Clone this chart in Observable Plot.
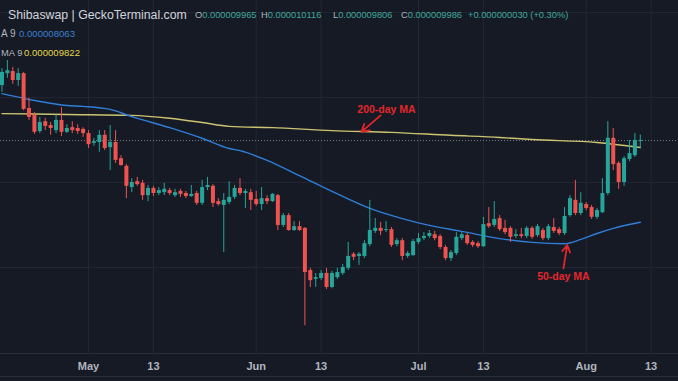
<!DOCTYPE html>
<html>
<head>
<meta charset="utf-8">
<script src="https://cdn.jsdelivr.net/npm/d3@7"></script>
<script src="https://cdn.jsdelivr.net/npm/@observablehq/plot@0.6"></script>
<style>
  html, body { margin: 0; padding: 0; background: #161a25; }
  #wrap { position: relative; width: 678px; height: 381px; overflow: hidden; background: #161a25; font-family: "Liberation Sans", Arial, sans-serif; }
  #wrap svg { position: absolute; left: 0; top: 0; }
  .ov { position: absolute; white-space: nowrap; line-height: 1; }
  .hl { position: absolute; left: 0; width: 678px; height: 1px; background: #2a2e39; }
</style>
</head>
<body>
<div id="wrap"></div>
<script>
// ---- data (prices in units of 1e-6) ----
const firstDay = "2023-04-15"; // daily candles, consecutive days
const open = [11.28,11.56,11.61,11.40,11.56,10.74,10.58,10.20,10.43,10.34,10.22,10.46,10.18,10.29,10.27,10.25,
  10.15,9.92,9.94,10.11,9.82,9.94,9.56,9.38,8.88,9.02,8.98,8.69,8.86,8.74,8.76,8.81,8.69,8.79,8.74,8.67,8.74,8.51,8.88,8.91,
  8.55,8.46,8.53,8.65,8.86,8.74,8.76,8.60,8.48,8.62,8.55,8.69,7.99,8.22,7.87,7.96,7.92,6.93,6.72,6.74,6.86,6.53,6.76,6.86,
  6.98,7.31,7.26,7.26,7.54,7.85,7.92,7.87,7.89,7.54,7.63,7.26,7.28,7.59,7.68,7.73,7.77,7.73,7.47,7.21,7.33,7.68,7.75,7.59,
  7.56,7.49,8.03,7.99,8.15,7.92,7.92,7.73,7.77,7.73,7.92,7.75,7.87,7.68,7.94,7.89,7.80,8.22,8.58,8.27,8.48,8.41,8.18,8.29,
  8.74,10.04,9.45,9.00,9.54,9.63,9.965];
const high = [11.68,11.87,11.71,11.68,11.59,10.98,10.65,10.53,10.51,10.41,10.58,10.76,10.36,10.43,10.36,10.29,
  10.22,10.04,10.22,10.22,10.34,10.22,9.63,9.42,9.09,9.12,9.05,8.93,8.91,8.88,8.98,8.86,8.84,8.84,8.79,8.93,8.79,9.05,9.12,8.95,
  8.62,8.74,9.02,8.93,9.09,8.84,8.84,8.79,8.88,8.69,8.74,8.72,8.27,8.27,8.08,8.08,7.94,6.98,6.86,6.93,6.98,6.91,6.98,7.07,
  7.59,7.35,7.35,7.63,8.58,8.15,8.06,8.08,7.94,7.68,7.68,7.38,7.66,7.80,7.82,7.87,7.85,7.77,7.52,7.40,7.82,7.82,7.80,7.63,
  7.61,8.18,8.41,8.55,8.22,8.11,7.96,7.89,7.92,7.96,7.96,8.01,7.92,8.01,8.15,7.94,8.41,8.69,9.05,8.76,8.53,8.46,8.39,9.09,
  10.43,10.27,9.49,9.61,9.99,10.15,10.116];
const low = [11.12,11.45,11.31,11.26,10.69,10.46,10.13,10.15,10.22,10.11,10.15,10.08,10.15,10.15,10.13,10.06,
  9.80,9.85,9.71,9.75,9.28,9.45,9.38,8.62,8.76,8.91,8.58,8.55,8.67,8.69,8.69,8.69,8.65,8.65,8.62,8.65,8.46,8.46,8.81,8.41,
  8.44,7.35,8.48,8.60,8.69,8.39,8.34,8.44,8.34,8.48,8.53,7.87,7.94,7.85,7.85,7.85,5.63,6.53,6.53,6.69,6.48,6.50,6.72,6.81,
  6.93,7.16,7.05,7.21,7.49,7.80,7.75,7.82,7.47,7.49,7.16,7.21,7.26,7.54,7.63,7.68,7.63,7.42,7.16,7.14,7.28,7.63,7.52,7.47,
  7.45,7.47,7.92,7.94,7.85,7.77,7.59,7.68,7.68,7.68,7.66,7.71,7.63,7.63,7.80,7.75,7.75,8.18,8.22,8.22,8.34,8.13,8.13,8.27,
  8.69,9.28,8.84,8.91,9.49,9.59,9.806];
const close = [11.59,11.63,11.40,11.56,10.72,10.53,10.18,10.41,10.32,10.27,10.46,10.18,10.27,10.22,10.20,10.15,
  9.89,9.96,10.11,9.80,9.94,9.52,9.40,8.91,9.00,8.95,8.69,8.86,8.74,8.81,8.84,8.74,8.76,8.72,8.67,8.72,8.51,8.88,8.93,8.51,
  8.48,8.58,8.65,8.86,8.74,8.79,8.58,8.48,8.62,8.55,8.72,7.99,8.22,7.87,7.96,7.87,6.88,6.69,6.76,6.86,6.53,6.86,6.88,7.00,
  7.26,7.24,7.31,7.56,7.87,7.92,7.85,7.89,7.52,7.63,7.26,7.33,7.61,7.68,7.73,7.80,7.68,7.47,7.21,7.35,7.71,7.77,7.56,7.52,
  7.49,8.01,7.96,8.13,7.89,7.82,7.71,7.77,7.73,7.92,7.71,7.96,7.68,7.96,7.85,7.80,8.20,8.62,8.27,8.51,8.39,8.18,8.34,8.74,
  10.04,9.42,9.00,9.56,9.68,9.99,9.986];

// moving averages
const ma50Dates  = ["2023-04-15","2023-04-21","2023-04-27","2023-04-30","2023-05-05","2023-05-09","2023-05-16","2023-05-22",
  "2023-05-27","2023-05-29","2023-06-03","2023-06-09","2023-06-15","2023-06-22","2023-06-28","2023-07-03","2023-07-09",
  "2023-07-16","2023-07-22","2023-07-28","2023-07-31","2023-08-03","2023-08-06","2023-08-11"];
const ma50Values = [11.09,10.93,10.81,10.79,10.72,10.55,10.29,10.04,9.80,9.75,9.52,9.16,8.79,8.39,8.15,7.99,7.85,
  7.68,7.59,7.56,7.66,7.80,7.92,8.063];
const ma200Dates  = ["2023-04-15","2023-04-27","2023-05-09","2023-05-16","2023-05-22","2023-05-27","2023-06-04","2023-06-15",
  "2023-06-26","2023-07-07","2023-07-16","2023-07-22","2023-08-03","2023-08-11"];
const ma200Values = [10.62,10.60,10.58,10.51,10.41,10.32,10.29,10.22,10.18,10.11,10.06,10.01,9.94,9.822];

// axis
const tickDates  = ["2023-05-01","2023-05-13","2023-06-01","2023-06-13","2023-07-01","2023-07-13","2023-08-01","2023-08-13"];
const tickLabels = ["May","13","Jun","13","Jul","13","Aug","13"];
const gridPrices = [7, 9, 11, 13];

// header
const title = "Shibaswap | GeckoTerminal.com";
const ohlcLetters = ["O","H","L","C"];
const ohlcValues  = ["0.000009965","0.000010116","0.000009806","0.000009986"];
const changeText  = "+0.000000030 (+0.30%)";
const maLabels = ["A 9", "MA 9"];
const maValues = ["0.000008063", "0.000009822"];

// annotations
const annotations = [
  {text: "200-day MA", x: "2023-06-25T02:00Z", y: 10.72, x1: "2023-06-24T00:00Z", y1: 10.58, x2: "2023-06-20T11:00Z", y2: 10.19},
  {text: "50-day MA",  x: "2023-07-27T19:00Z", y: 6.79,  x1: "2023-07-27T19:00Z", y1: 6.98,  x2: "2023-07-28T12:00Z", y2: 7.53}
];

// ---- build ----
const day0 = new Date(firstDay + "T00:00Z").getTime();
const candles = open.map((o, i) => ({date: new Date(day0 + i * 864e5), open: o, high: high[i], low: low[i], close: close[i]}));
const up = candles.filter(d => d.close >= d.open);
const down = candles.filter(d => d.close < d.open);
const ma50 = ma50Dates.map((d, i) => ({date: new Date(d + "T00:00Z"), v: ma50Values[i]}));
const ma200 = ma200Dates.map((d, i) => ({date: new Date(d + "T00:00Z"), v: ma200Values[i]}));
const ticks = tickDates.map(d => new Date(d + "T00:00Z"));
const labelOf = new Map(ticks.map((t, i) => [+t, tickLabels[i]]));
const ann = annotations.map(a => ({...a, x: new Date(a.x), x1: new Date(a.x1), x2: new Date(a.x2)}));

const UP = "#26a69a", DOWN = "#ef5350", GRID = "#232734";
const lastClose = close[close.length - 1];

const chart = Plot.plot({
  width: 678, height: 381,
  marginTop: 0, marginBottom: 28, marginLeft: 0, marginRight: 0,
  style: {background: "transparent", color: "#b2b5be", fontFamily: "Liberation Sans, Arial, sans-serif"},
  x: {type: "utc", domain: [new Date("2023-04-14T17:30Z"), new Date("2023-08-18T01:30Z")], axis: null},
  y: {domain: [4.976, 13.282], axis: null},
  marks: [
    Plot.gridX(ticks, {x: d => d, stroke: GRID, strokeOpacity: 1}),
    Plot.gridY(gridPrices, {y: d => d, stroke: GRID, strokeOpacity: 1}),
    Plot.axisX(ticks, {x: d => d, tickSize: 0, tickPadding: 9, tickFormat: d => labelOf.get(+d),
      fontSize: 11, fontWeight: 600, fill: "#b2b5be"}),
    Plot.ruleY([lastClose], {stroke: "#7d828c", strokeDasharray: "1,2", strokeWidth: 1}),
    Plot.line(ma200, {x: "date", y: "v", stroke: "#cdc472", strokeWidth: 1.4, curve: "monotone-x"}),
    Plot.line(ma50, {x: "date", y: "v", stroke: "#2f7ed8", strokeWidth: 1.4, curve: "monotone-x"}),
    Plot.ruleX(up, {x: "date", y1: "low", y2: "high", stroke: UP, strokeWidth: 1}),
    Plot.ruleX(down, {x: "date", y1: "low", y2: "high", stroke: DOWN, strokeWidth: 1}),
    Plot.ruleX(up, {x: "date", y1: "open", y2: "close", stroke: UP, strokeWidth: 4}),
    Plot.ruleX(down, {x: "date", y1: "open", y2: "close", stroke: DOWN, strokeWidth: 4}),
    Plot.arrow(ann, {x1: "x1", y1: "y1", x2: "x2", y2: "y2", stroke: "#e3262b", strokeWidth: 1.8, headLength: 7}),
    Plot.text(ann, {x: "x", y: "y", text: "text", fill: "#e3262b", fontSize: 10.5, fontWeight: "bold"})
  ]
});

const wrap = document.getElementById("wrap");
wrap.appendChild(chart);

function add(html, css) {
  const el = document.createElement("div");
  el.className = "ov";
  el.innerHTML = html;
  Object.assign(el.style, css);
  wrap.appendChild(el);
  return el;
}
// axis band borders
for (const t of [353, 376]) { const l = document.createElement("div"); l.className = "hl"; l.style.top = t + "px"; wrap.appendChild(l); }

// header row 1
add(title, {left: "8px", top: "9px", fontSize: "12.3px", color: "#d1d4dc"});
const ohlcX = [195, 261, 333, 401];
ohlcLetters.forEach((L, i) => {
  add(`<span style="color:#b2b5be">${L}</span><span style="color:#3fa99e">${ohlcValues[i]}</span>`,
      {left: ohlcX[i] + "px", top: "11px", fontSize: "9.3px"});
});
add(`<span style="color:#3fa99e">${changeText}</span>`, {left: "468px", top: "11px", fontSize: "9.3px"});
// rows 2 and 3
add(`<span style="color:#b2b5be">${maLabels[0]}</span>`, {left: "1px", top: "29px", fontSize: "10px"});
add(`<span style="color:#3b7fd0">${maValues[0]}</span>`, {left: "19px", top: "29px", fontSize: "9.6px"});
add(`<span style="color:#b2b5be">${maLabels[1]}</span>`, {left: "1px", top: "48px", fontSize: "9.4px"});
add(`<span style="color:#e3d64c">${maValues[1]}</span>`, {left: "24px", top: "48px", fontSize: "9.6px"});
</script>
</body>
</html>
